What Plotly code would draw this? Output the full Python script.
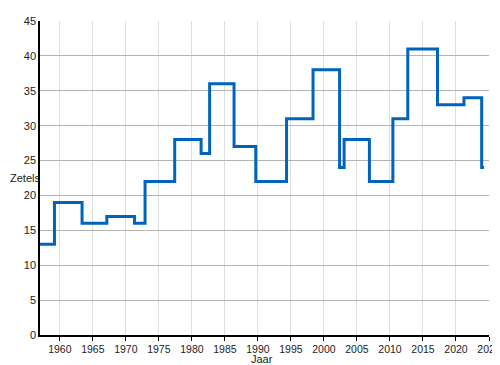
import plotly.graph_objects as go

# Election dates (decimal years) and seats (Zetels)
years = [1956.45, 1959.19, 1963.37, 1967.12, 1971.32, 1972.91, 1977.40, 1981.40,
         1982.69, 1986.39, 1989.68, 1994.34, 1998.35, 2002.37, 2003.06, 2006.89,
         2010.44, 2012.70, 2017.20, 2021.21, 2023.89, 2024.25]
seats = [13, 19, 16, 17, 16, 22, 28, 26, 36, 27, 22, 31, 38, 24, 28, 22,
         31, 41, 33, 34, 24, 24]

x_ticks = list(range(1960, 2026, 5))
y_ticks = list(range(0, 46, 5))

fig = go.Figure()
fig.add_trace(go.Scatter(
    x=years, y=seats, mode="lines", line_shape="hv",
    line=dict(color="#0064be", width=3), hoverinfo="skip"))

font = dict(family="Liberation Sans, Arial, sans-serif", size=11, color="#222")
fig.update_layout(
    width=492, height=357,
    margin=dict(l=32, r=11, t=13, b=30),
    paper_bgcolor="white", plot_bgcolor="white",
    showlegend=False, font=font,
    xaxis=dict(range=[1957, 2025], tickvals=x_ticks, ticktext=[str(v) for v in x_ticks],
               tickfont=dict(size=10.5),
               showgrid=True, gridcolor="#dedede", gridwidth=1,
               showline=True, linecolor="black", linewidth=1.5,
               ticks="outside", ticklen=4, tickcolor="black",
               ticklabeloverflow="allow",
               zeroline=False, automargin=False, fixedrange=True),
    yaxis=dict(range=[0, 45], tickvals=y_ticks,
               showgrid=True, gridcolor="#b4b4b4", gridwidth=1,
               showline=True, linecolor="black", linewidth=1.5,
               ticks="", zeroline=False, automargin=False, fixedrange=True),
)
fig.add_annotation(text="Zetels", xref="paper", yref="y", x=0, y=22.5,
                   xshift=-32, xanchor="left", yanchor="middle", showarrow=False)
fig.add_annotation(text="Jaar", xref="x", yref="paper", x=1990.6, y=0,
                   yshift=-16, yanchor="top", showarrow=False)

fig.write_html("out.html")
